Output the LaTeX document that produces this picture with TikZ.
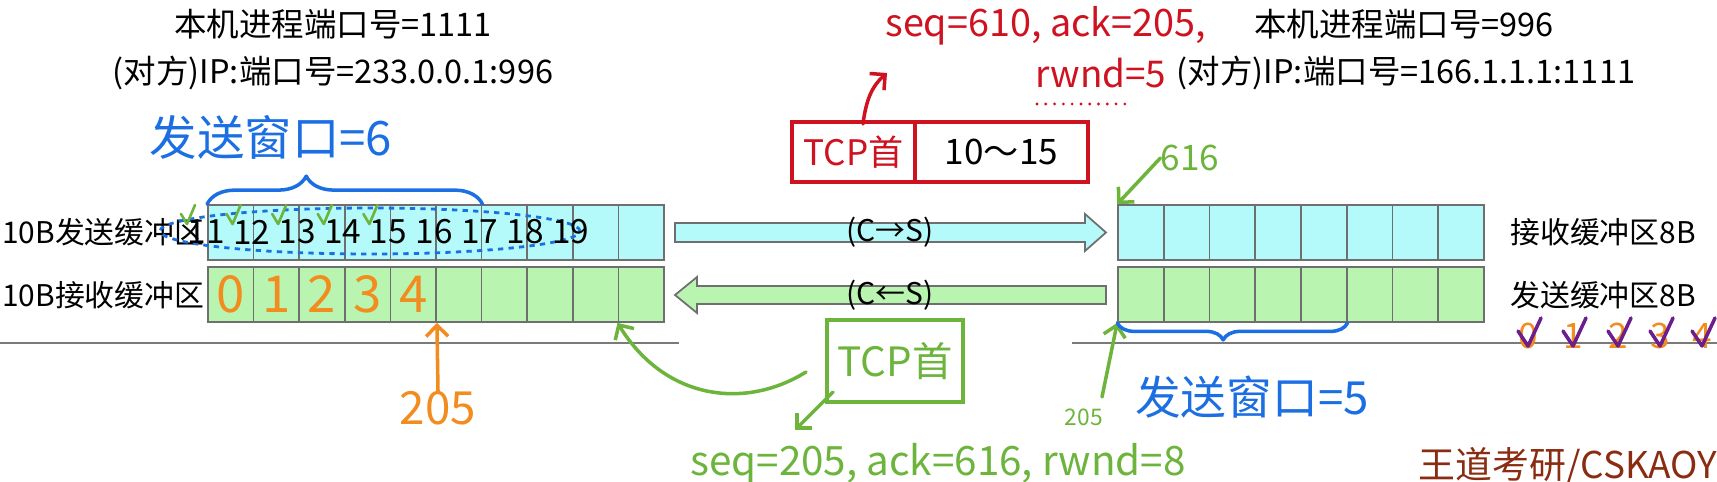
\documentclass[tikz,border=0pt]{standalone}
\usepackage{fontspec}
\setmainfont{Noto Sans CJK SC}
\usetikzlibrary{arrows.meta,positioning,decorations.pathreplacing}
\definecolor{cellgray}{HTML}{6F6F6F}
\definecolor{cyanfill}{HTML}{B4FAFA}
\definecolor{greenfill}{HTML}{B9F5B1}
\definecolor{penblue}{HTML}{1B6FE3}
\definecolor{pengreen}{HTML}{6CB43C}
\definecolor{penorange}{HTML}{F28C1E}
\definecolor{penred}{HTML}{CF1220}
\definecolor{penpurple}{HTML}{6B1E8C}
\definecolor{markbrown}{HTML}{8A2C12}
\definecolor{rulegray}{HTML}{7A7A7A}
\tikzset{
  cellC/.style={draw=cellgray,fill=cyanfill,line width=1pt,inner sep=0pt,minimum width=.913cm,minimum height=1.1cm},
  cellG/.style={cellC,fill=greenfill},
  blockarrow/.style={draw=cellgray,line width=1pt},
  printed/.style={inner sep=0pt,font=\fontsize{17}{20}\selectfont},
  infoline/.style={inner sep=0pt,font=\fontsize{18.5}{22}\selectfont},
  hand/.style={inner sep=0pt},
  pen/.style={line width=2pt,line cap=round,line join=round},
  penhead/.style={-{Straight Barb[length=2.2mm,width=4.4mm]}},
  redbox/.style={draw=penred,line width=2pt,inner sep=0pt,minimum height=1.2cm,font=\fontsize{20}{24}\selectfont},
  greenbox/.style={draw=pengreen,line width=2pt,inner sep=0pt,minimum width=2.72cm,minimum height=1.64cm,text=pengreen,font=\fontsize{23}{26}\selectfont}
}
\begin{document}
\begin{tikzpicture}[x=.02cm,y=-.02cm]
\useasboundingbox (0,0) rectangle (1717,482);
\node[infoline] (lport) at (333,24) {本机进程端口号=1111};
\node[infoline] (lip) at (333,73) {(对方)IP:端口号=233.0.0.1:996};
\node[infoline] (rport) at (1404,24) {本机进程端口号=996};
\node[infoline] (rip) at (1406,73) {(对方)IP:端口号=166.1.1.1:1111};
\draw[rulegray,line width=1.2pt] (0,343) -- (679,343);
\draw[rulegray,line width=1.2pt] (1072,343) -- (1717,343);
\foreach \i in {0,...,9} {
  \node[cellC] (ls\i) at ({230.8+45.6*\i},232.5) {};
  \node[cellG] (lr\i) at ({230.8+45.6*\i},294.5) {};
}
\foreach \i in {0,...,7} {
  \node[cellC] (rr\i) at ({1140.9+45.75*\i},232.5) {};
  \node[cellG] (rs\i) at ({1140.9+45.75*\i},294.5) {};
}
\node[printed,anchor=west] (lsend) at (2,232) {10B发送缓冲区};
\node[printed,anchor=west] (lrecv) at (2,295) {10B接收缓冲区};
\node[printed,anchor=west] (rrecv) at (1510,232) {接收缓冲区8B};
\node[printed,anchor=west] (rsend) at (1510,295) {发送缓冲区8B};
\filldraw[blockarrow,fill=cyanfill] (675,223) -- (1085,223) -- (1085,214) -- (1106,232.5) -- (1085,251) -- (1085,242) -- (675,242) -- cycle;
\filldraw[blockarrow,fill=greenfill] (1106,286) -- (697,286) -- (697,277) -- (675,295) -- (697,313) -- (697,304) -- (1106,304) -- cycle;
\node[printed] (c2s) at (890,232) {(C→S)};
\node[printed] (s2c) at (890,295) {(C←S)};
\node[hand,text=penblue,font=\fontsize{27}{30}\selectfont] (win6) at (271,137) {发送窗口=6};
\draw[pen,penblue,decorate,decoration={brace,amplitude=.56cm,aspect=.36}] (ls0.north west) -- (ls5.north east);
\draw[penblue,line width=1.6pt,dashed] (370,231) ellipse [x radius=4.2cm,y radius=.46cm];
\foreach \n [count=\k from 0] in {11,...,19}
  \node[hand,font=\fontsize{19}{22}\selectfont] (h\n) at ({206+45.6*\k},232) {\n};
\foreach \k in {0,...,4}
  \draw[pen,pengreen,line width=1.5pt] ({181+45.6*\k},214) -- ({187+45.6*\k},224) -- ({195+45.6*\k},205);
\foreach \d in {0,...,4}
  \node[hand,text=penorange,font=\fontsize{29}{32}\selectfont] (o\d) at (lr\d) {\d};
\node[hand,text=penorange,font=\fontsize{26}{30}\selectfont] (o205) at (438,408) {205};
\draw[pen,penorange,penhead] (o205.north) -- (lr4.south east);
\node[greenbox] (gtcp) at (895,361) {TCP首};
\coordinate (gtail) at (806,372);
\draw[pen,pengreen,penhead] (gtail) .. controls (745,410) and (665,400) .. (lr9.south west);
\coordinate (gfoot) at (833,392);
\coordinate (gtip) at (795,430);
\draw[pen,pengreen,penhead] (gfoot) -- (gtip);
\node[hand,text=pengreen,font=\fontsize{23}{26}\selectfont] (gseq) at (938,464) {seq=205, ack=616, rwnd=8};
\node[redbox,minimum width=2.46cm,text=penred] (rtcp) at (853.5,152) {TCP首};
\node[redbox,minimum width=3.46cm] (rdata) at (1001.5,152) {10～15};
\coordinate (rfoot) at (863,124);
\coordinate (rtip) at (887,73);
\draw[pen,penred,penhead] (rfoot) .. controls (866,100) and (872,86) .. (rtip);
\node[hand,text=penred,anchor=west,font=\fontsize{21.5}{24}\selectfont] (rseq) at (885,26) {seq=610, ack=205,};
\node[hand,text=penred,anchor=west,font=\fontsize{21}{24}\selectfont] (rrwnd) at (1035,73) {rwnd=5};
\draw[penred,line width=1.8pt,line cap=round,dash pattern=on 0pt off 5pt] (1037,104) -- (1130,104);
\node[hand,text=pengreen,font=\fontsize{20}{22}\selectfont] (g616) at (1190,158) {616};
\draw[pen,pengreen,penhead] (g616.west) -- (rr0.north west);
\node[hand,text=pengreen,font=\fontsize{13}{16}\selectfont] (g205) at (1084,417) {205};
\coordinate (gup) at (1102,397);
\draw[pen,pengreen,penhead] (gup) -- (rs0.south west);
\draw[pen,penblue,decorate,decoration={brace,amplitude=.34cm,aspect=.54}] (rs4.south east) -- (rs0.south west);
\node[hand,text=penblue,font=\fontsize{26}{30}\selectfont] (win5) at (1252,397) {发送窗口=5};
\foreach \d/\x in {0/1528,1/1573,2/1618,3/1660,4/1702} {
  \node[hand,text=penorange,font=\fontsize{20}{22}\selectfont] (ck\d) at (\x,336) {\d};
  \draw[pen,penpurple] ({\x-10},331) -- (\x,346) -- ({\x+13},318);
}
\node[hand,text=markbrown,anchor=east,font=\fontsize{21}{24}\selectfont] (mark) at (1717,466) {王道考研/CSKAOY};
\end{tikzpicture}
\end{document}
